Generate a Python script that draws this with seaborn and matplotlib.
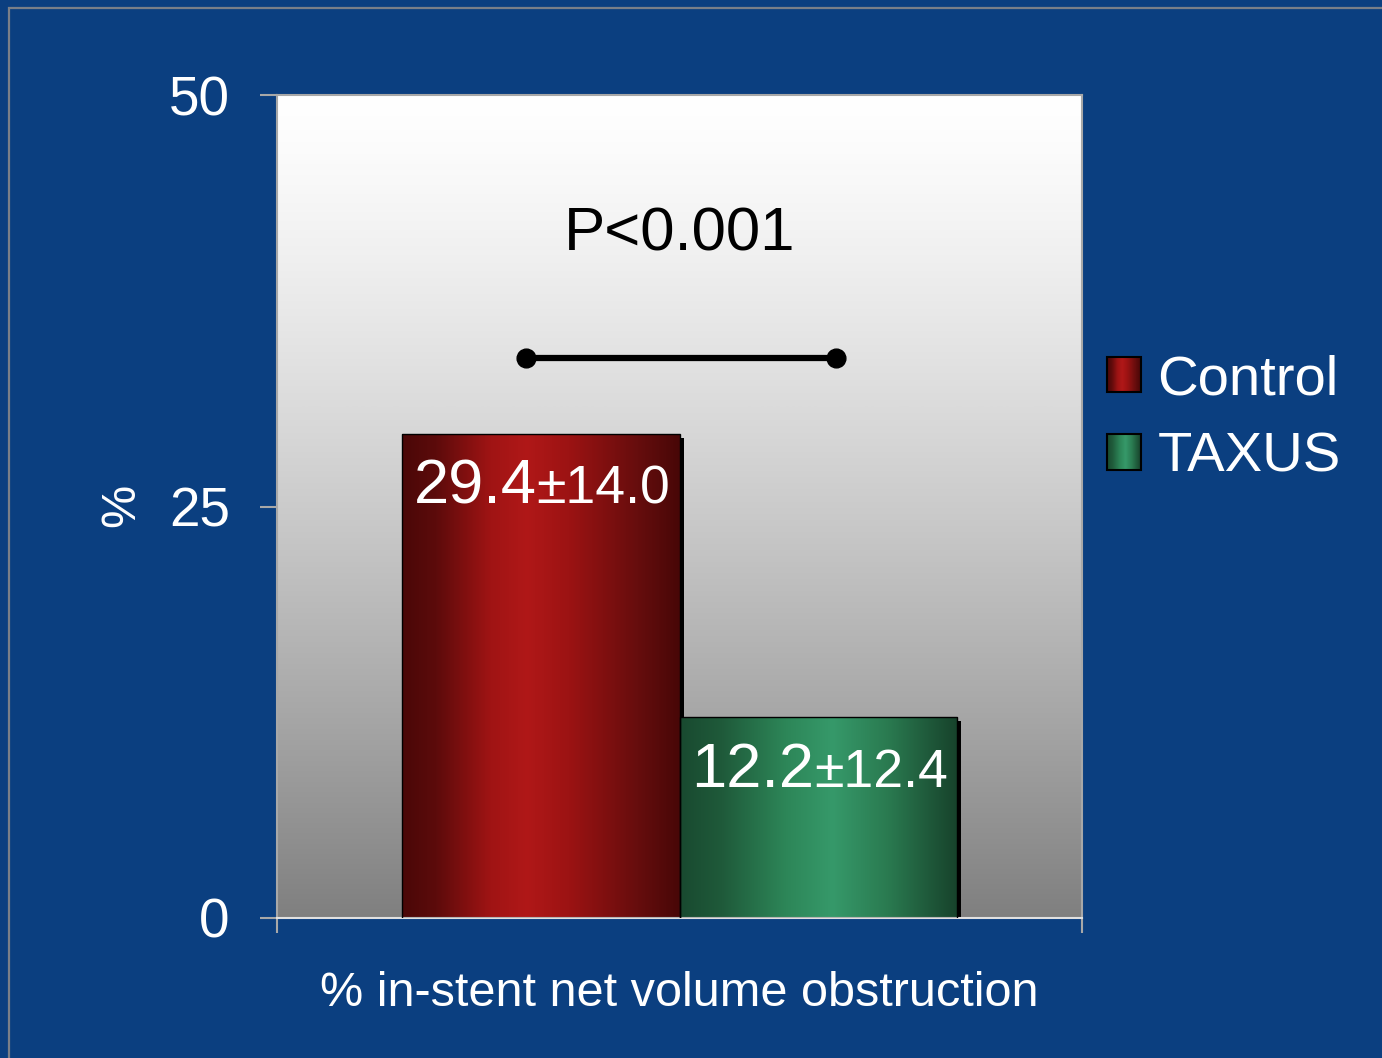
import numpy as np
import pandas as pd
import matplotlib
matplotlib.use("Agg")
import matplotlib.pyplot as plt
import seaborn as sns
from matplotlib.patches import Rectangle
from matplotlib.colors import LinearSegmentedColormap
from matplotlib.transforms import offset_copy, Bbox, TransformedBbox
from matplotlib.image import BboxImage
from matplotlib.legend_handler import HandlerBase

# ---- data ----
metric = ["% in-stent net volume obstruction"]
groups = ["Control", "TAXUS"]
means = [29.4, 12.2]
sds = [14.0, 12.4]
yticks = [0, 25, 50]
p_text = "P<0.001"

df = pd.DataFrame({"metric": metric * len(groups), "group": groups, "value": means})

sns.set_theme(style="white")
plt.rcParams["font.family"] = ["Liberation Sans", "DejaVu Sans"]

W, H = 1382, 1058
fig = plt.figure(figsize=(W / 100, H / 100), dpi=100)
bg = "#0b3f80"
fig.patch.set_facecolor(bg)
fig.patches.append(Rectangle((9 / W, -0.2), 1.3, 1 - 8 / H + 0.2, transform=fig.transFigure,
                             facecolor="none", edgecolor="#7a7f88", linewidth=1.6, zorder=0))

ax = fig.add_axes([277 / W, 1 - 918 / H, (1082 - 277) / W, (918 - 95) / H])
ax.set_facecolor("none")

palette = {"Control": "#a01414", "TAXUS": "#2e8a5a"}
sns.barplot(data=df, x="metric", y="value", hue="group", palette=palette, width=0.69,
            gap=0, dodge=True, saturation=1, ax=ax, edgecolor="black", linewidth=1.0, legend=True)

# plot-area vertical gradient (white -> gray)
t = np.linspace(0, 1, 256) ** 1.3
vals = 1 - 0.5 * t
grad = np.stack([vals, vals, vals], axis=-1)[:, None, :]
ax.imshow(grad, extent=[-0.5, 0.5, 0, 50], aspect="auto", zorder=0, origin="upper",
          interpolation="bicubic")

cmaps = {
    "Control": LinearSegmentedColormap.from_list("r", [
        (0, "#4a0707"), (0.12, "#5c0b0b"), (0.32, "#a01414"), (0.45, "#b01818"),
        (0.6, "#9c1313"), (0.85, "#660d0d"), (1, "#480707")]),
    "TAXUS": LinearSegmentedColormap.from_list("g", [
        (0, "#194a30"), (0.15, "#1f5a3a"), (0.38, "#2d8658"), (0.55, "#36996a"),
        (0.75, "#2a7a50"), (1, "#17422b")]),
}

bars = []
for cont, g in zip(ax.containers, groups):
    for bar in cont:
        bars.append((bar, g))

shadow_tr = offset_copy(ax.transData, fig=fig, x=4, y=-4, units="dots")
for bar, g in bars:
    x, y0 = bar.get_x(), bar.get_y()
    w, h = bar.get_width(), bar.get_height()
    ax.add_patch(Rectangle((x, y0), w, h, transform=shadow_tr, facecolor="black",
                           edgecolor="none", zorder=1))
    row = cmaps[g](np.linspace(0, 1, 256))[None, :, :3]
    ax.imshow(row, extent=[x, x + w, y0, y0 + h], aspect="auto", zorder=2,
              interpolation="bicubic")
    bar.set_facecolor("none")
    bar.set_zorder(3)

for (bar, g), m, s in zip(bars, means, sds):
    cx = bar.get_x() + bar.get_width() / 2
    top = bar.get_height()
    ax.annotate(f"{m:.1f}", xy=(cx, top), xytext=(-3.0, -50), textcoords="offset points",
                ha="right", va="baseline", color="white", fontsize=45.5, zorder=5)
    ax.annotate(f"±{s:.1f}", xy=(cx, top), xytext=(-3.0, -50), textcoords="offset points",
                ha="left", va="baseline", color="white", fontsize=38.5, zorder=5)

# significance bracket
ax.plot([-0.191, 0.195], [34, 34], color="black", lw=4.5, marker="o", markersize=13.5,
        solid_capstyle="butt", zorder=4)
ax.text(0, 41.5, p_text, ha="center", va="center", fontsize=44.5, color="black", zorder=5)

ax.set_xlim(-0.5, 0.5)
ax.set_ylim(0, 50)
ax.set_yticks(yticks)
ax.set_yticklabels([str(v) for v in yticks], color="white", fontsize=39.5)
ax.set_xticks([-0.5, 0.5])
ax.set_xticklabels(["", ""])
spine_c = "#a8a8a8"
ax.tick_params(axis="y", direction="out", length=12, width=1.5, color=spine_c, pad=22, left=True)
ax.tick_params(axis="x", direction="out", length=11, width=1.5, color=spine_c, bottom=True)
for sp in ax.spines.values():
    sp.set_visible(True)
    sp.set_color(spine_c)
    sp.set_linewidth(1.5)
ax.spines["bottom"].set_color("#e0e0e0")

ax.set_xlabel(metric[0], color="white", fontsize=35, labelpad=24)
ax.set_ylabel("%", color="white", fontsize=35)
ax.yaxis.set_label_coords((144 - 277) / (1082 - 277), (918 - 505) / (918 - 95))


class GradHandler(HandlerBase):
    def __init__(self, cmap):
        super().__init__()
        self.cmap = cmap

    def create_artists(self, legend, orig_handle, xdescent, ydescent, width, height,
                       fontsize, trans):
        bb = TransformedBbox(Bbox.from_bounds(-xdescent, -ydescent, width, height), trans)
        img = BboxImage(bb, interpolation="bicubic")
        img.set_data(self.cmap(np.linspace(0, 1, 64))[None, :, :3])
        rect = Rectangle((-xdescent, -ydescent), width, height, facecolor="none",
                         edgecolor="black", linewidth=1.5, transform=trans)
        return [img, rect]


handles, labels = ax.get_legend_handles_labels()
hmap = {hdl: GradHandler(cmaps[lab]) for hdl, lab in zip(handles, labels)}
ax.legend(handles, labels, loc="center left", bbox_to_anchor=(1107 / W, 1 - 419 / H),
          bbox_transform=fig.transFigure, frameon=False, fontsize=40.5, labelcolor="white",
          handlelength=0.6, handleheight=0.6, handletextpad=0.3, labelspacing=0.45,
          borderpad=0, borderaxespad=0, handler_map=hmap)

fig.savefig("out.png", dpi=100, facecolor=fig.get_facecolor())
